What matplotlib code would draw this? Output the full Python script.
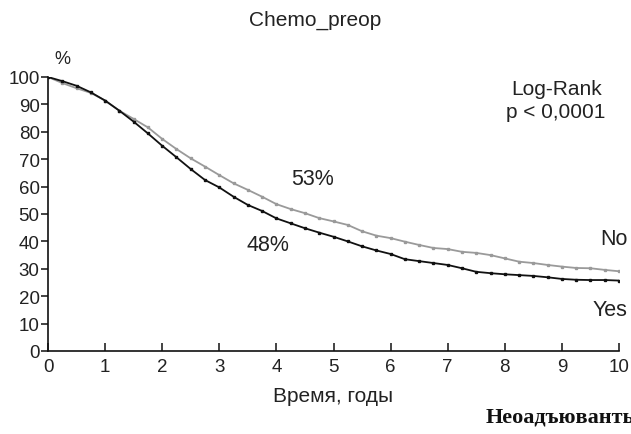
import numpy as np
import matplotlib
matplotlib.use("Agg")
import matplotlib.pyplot as plt

# survival curves, every 0.25 year
years = np.arange(0, 10.01, 0.25)
yes_pct = [100, 98.5, 96.8, 94.4, 91.4, 87.7, 83.7, 79.4, 74.9, 70.7,
           66.4, 62.4, 59.7, 56.3, 53.3, 51.1, 48.4, 46.6, 44.8, 43.2,
           41.7, 40.0, 38.2, 36.7, 35.4, 33.5, 32.8, 32.1, 31.4, 30.2,
           28.9, 28.4, 28.0, 27.7, 27.4, 26.9, 26.3, 26.0, 25.9, 25.9, 25.7]
no_pct = [100, 97.8, 95.9, 94.2, 91.4, 87.7, 84.7, 81.6, 77.4, 73.7,
          70.3, 67.3, 64.2, 61.2, 58.8, 56.3, 53.6, 51.8, 50.3, 48.5,
          47.3, 46.0, 43.7, 42.1, 41.2, 39.9, 38.7, 37.6, 37.2, 36.2,
          35.8, 35.0, 33.8, 32.6, 32.1, 31.4, 30.8, 30.3, 30.2, 29.6, 29.1]
xticks = list(range(0, 11))
yticks = list(range(0, 101, 10))

plt.rcParams['font.family'] = ['Liberation Sans', 'DejaVu Sans']
txt = '#222222'

fig = plt.figure(figsize=(6.31, 4.35), dpi=100)
ax = fig.add_axes([48/631, 83/435, 571/631, 274/435])

ax.plot(years, no_pct, color='#9a9a9a', lw=1.3, marker='s', ms=1.6, zorder=2)
ax.plot(years, yes_pct, color='#111111', lw=1.3, marker='s', ms=1.6, zorder=3)

ax.set_xlim(0, 10)
ax.set_ylim(0, 100)
ax.set_xticks(xticks)
ax.set_yticks(yticks)
ax.spines['top'].set_visible(False)
ax.spines['right'].set_visible(False)
for s in ('left', 'bottom'):
    ax.spines[s].set_linewidth(1.2)
    ax.spines[s].set_color('#111111')
ax.tick_params(axis='x', direction='in', length=6, width=1.1, labelsize=13.5,
               colors='#111111', labelcolor=txt, pad=5)
ax.tick_params(axis='y', direction='out', length=5, width=1.1, labelsize=13.5,
               colors='#111111', labelcolor=txt, pad=1)
ax.set_xlabel('Время, годы', fontsize=15, color=txt, labelpad=8)

fig.text(0.5, 0.953, 'Chemo_preop', ha='center', va='center', fontsize=15, color=txt)
fig.text(62/631, 1 - 60/435, '%', ha='center', va='center', fontsize=13, color=txt)
ax.text(9.77, 91.5, 'Log-Rank\np < 0,0001', ha='right', va='center', fontsize=15,
        color=txt, linespacing=1.25, multialignment='center')
ax.text(4.64, 62.8, '53%', ha='center', va='center', fontsize=15.5, color=txt)
ax.text(3.85, 39, '48%', ha='center', va='center', fontsize=15.5, color=txt)
ax.text(10.15, 40.9, 'No', ha='right', va='center', fontsize=15.5, color=txt,
        clip_on=False)
ax.text(10.15, 15.3, 'Yes', ha='right', va='center', fontsize=15.5, color=txt,
        clip_on=False)
# caption runs off the right edge in the reference too
fig.text(486/631, 1 - 418/435, 'Неоадъюванты', ha='left', va='center',
         fontsize=16, fontweight='bold', family='Liberation Serif', color='#111111')

fig.savefig('out.png', dpi=100)
